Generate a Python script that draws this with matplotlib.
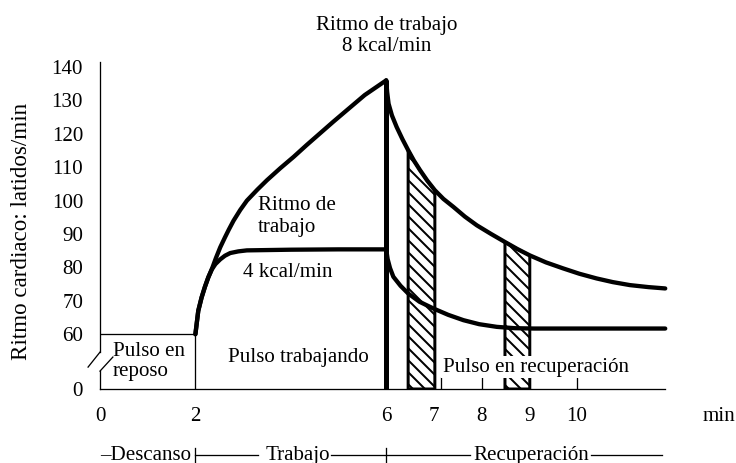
import numpy as np
import matplotlib
matplotlib.use("Agg")
import matplotlib.pyplot as plt

# ---------------- data ----------------
# 8 kcal/min work: rise during work
t8_work = [2.0, 2.06, 2.13, 2.2, 2.27, 2.34, 2.43, 2.52, 2.62, 2.7, 2.8, 2.94, 3.08,
           3.3, 3.5, 3.78, 4.06, 4.33, 4.61, 4.89, 5.17, 5.55, 6.0]
hr8_work = [60, 67, 71, 74.2, 77, 79.3, 82.8, 86, 89, 91.3, 94, 97.2, 100,
            103.3, 106.1, 109.7, 113.1, 116.6, 120.1, 123.6, 127, 131.6, 136]
# 8 kcal/min recovery
t8_rec = [6.0, 6.02, 6.05, 6.12, 6.22, 6.34, 6.46, 6.58, 6.71, 6.86, 7.02, 7.2, 7.41,
          7.65, 7.9, 8.2, 8.49, 8.75, 9.01, 9.35, 9.71, 10.05, 10.41, 10.75, 11.11,
          11.5, 11.85]
hr8_rec = [136, 132.5, 129, 125.5, 122, 118.4, 115.1, 112, 109.1, 106, 103.1, 100.5, 98.1,
           95.2, 92.6, 90, 87.6, 85.5, 83.6, 81.5, 79.7, 78.1, 76.7, 75.6, 74.7,
           74.1, 73.7]

# 4 kcal/min work
t4_work = [2.0, 2.06, 2.13, 2.2, 2.27, 2.34, 2.42, 2.52, 2.62, 2.73, 2.9, 3.08,
           4.0, 5.0, 6.0]
hr4_work = [60, 67, 71, 74.2, 77, 79.3, 81, 82.4, 83.5, 84.3, 84.8, 85.1,
            85.3, 85.4, 85.4]
# 4 kcal/min recovery
t4_rec = [6.0, 6.03, 6.08, 6.15, 6.3, 6.46, 6.7, 6.99, 7.3, 7.62, 7.95, 8.32, 8.7,
          9.1, 11.85]
hr4_rec = [85.4, 82.5, 79.8, 77.2, 74.5, 72.2, 69.7, 67.7, 65.8, 64.2, 63.0, 62.2, 61.8,
           61.7, 61.7]

resting_pulse = 60
work_start, work_end, rec_end = 2, 6, 11.85
peak_hr = 136
hatched_windows = [(6.46, 7.02), (8.49, 9.01)]

y_ticks = [0, 60, 70, 80, 90, 100, 110, 120, 130, 140]
x_ticks = [0, 2, 6, 7, 8, 9, 10]
x_tick_labels = ["0", "2", "6", "7", "8", "9", "10"]
minute_marks = [7.15, 8, 9, 10]
phase_names = ["Descanso", "Trabajo", "Recuperación"]

# ---------------- figure ----------------
plt.rcParams['font.family'] = ['Liberation Serif', 'DejaVu Serif']
plt.rcParams['hatch.linewidth'] = 2.0
FS = 21

W, H = 736, 463
fig = plt.figure(figsize=(W / 72, H / 72), dpi=72)
px_unit = 47.7
ax = fig.add_axes([100 / W, 1 - 389 / H, 13.2 * px_unit / W, (389 - 60.3) / H])

Y0 = 43.6  # where 0 sits on the broken axis
def fwd(y):
    y = np.asarray(y, float)
    return np.where(y >= 60, y, Y0 + y * (60 - Y0) / 60)
def inv(s):
    s = np.asarray(s, float)
    return np.where(s >= 60, s, (s - Y0) * 60 / (60 - Y0))

ax.set_yscale('function', functions=(fwd, inv))
ax.set_xlim(0, 13.2)
ax.set_ylim(0, 142)
for s in ax.spines.values():
    s.set_visible(False)

ax.set_yticks(y_ticks)
ax.set_yticklabels([str(v) for v in y_ticks], fontsize=FS)
ax.set_xticks(x_ticks + [12.97])
ax.set_xticklabels(x_tick_labels + ["min"], fontsize=FS)
ax.tick_params(axis='y', length=0, pad=17)
ax.tick_params(axis='x', length=0, pad=18)

thin = 1.3
# baseline and rest box
ax.plot([0, rec_end], [0, 0], color='black', lw=thin, clip_on=False)
ax.plot([0, work_start], [resting_pulse, resting_pulse], color='black', lw=thin)
ax.plot([work_start, work_start], [0, resting_pulse], color='black', lw=thin)
# broken left axis
ax.plot([0, 0], [40.4, 141.5], color='black', lw=thin, clip_on=False)
ax.plot([0, -0.25], [40.4, 24], color='black', lw=thin, clip_on=False)
ax.plot([0, 0], [0, 19.6], color='black', lw=thin, clip_on=False)
ax.plot([0, 0.27], [19.6, 35], color='black', lw=thin, clip_on=False)

# minute marks
ax.vlines(minute_marks, 0, 13, color='black', lw=thin, zorder=2)

# hatched windows under the 8 kcal recovery curve
t8r = np.array(t8_rec)
h8r = np.array(hr8_rec)
for a, b in hatched_windows:
    m = (t8r >= a - 1e-9) & (t8r <= b + 1e-9)
    ax.fill_between(t8r[m], 0, h8r[m], facecolor='white', edgecolor='black',
                    hatch='\\\\', linewidth=3, zorder=3)

# curves
lw_c = 4.3
for xs, ys in [(t8_work, hr8_work), (t8_rec, hr8_rec), (t4_work, hr4_work), (t4_rec, hr4_rec)]:
    ax.plot(xs, ys, color='black', lw=lw_c, solid_capstyle='round',
            solid_joinstyle='round', zorder=5)
# vertical line at end of work
ax.plot([work_end, work_end], [0, peak_hr], color='black', lw=5, zorder=6,
        solid_capstyle='butt')

# labels inside
ax.text(3.31, 95.3, "Ritmo de\ntrabajo", fontsize=FS, ha='left', va='center')
ax.text(3.0, 78.6, "4 kcal/min", fontsize=FS, ha='left', va='center')
ax.text(4.15, 35, "Pulso trabajando", fontsize=FS, ha='center', va='center')
ax.text(0.27, 30.5, "Pulso en\nreposo", fontsize=FS, ha='left', va='center',
        linespacing=1.05)
ax.text(7.19, 24, "Pulso en recuperación", fontsize=FS, ha='left', va='center',
        zorder=7, bbox=dict(facecolor='white', edgecolor='none', pad=1.5))

trans = ax.get_xaxis_transform()
# title above
ax.text(work_end, 1.074, "Ritmo de trabajo\n8 kcal/min", fontsize=FS,
        ha='center', va='center', transform=trans)
# y label
fig.text(22 / W, 1 - 231 / H, "Ritmo cardiaco: latidos/min", fontsize=23,
         rotation=90, ha='center', va='center')

# phase row
yb = -0.2008
ax.text(0, yb, "–" + phase_names[0], fontsize=FS, ha='left', va='center',
        transform=trans)
ax.text(4.15, yb, phase_names[1], fontsize=FS, ha='center', va='center',
        transform=trans)
ax.text(7.82, yb, phase_names[2], fontsize=FS, ha='left', va='center',
        transform=trans)
for x0, x1 in [(work_start, 3.31), (4.85, 7.76), (10.3, 11.78)]:
    ax.plot([x0, x1], [yb, yb], color='black', lw=thin, transform=trans, clip_on=False)
for xm in [work_start, work_end]:
    ax.plot([xm, xm], [yb + 0.02, yb - 0.025], color='black', lw=thin,
            transform=trans, clip_on=False)

fig.savefig("out.png", dpi=72)
